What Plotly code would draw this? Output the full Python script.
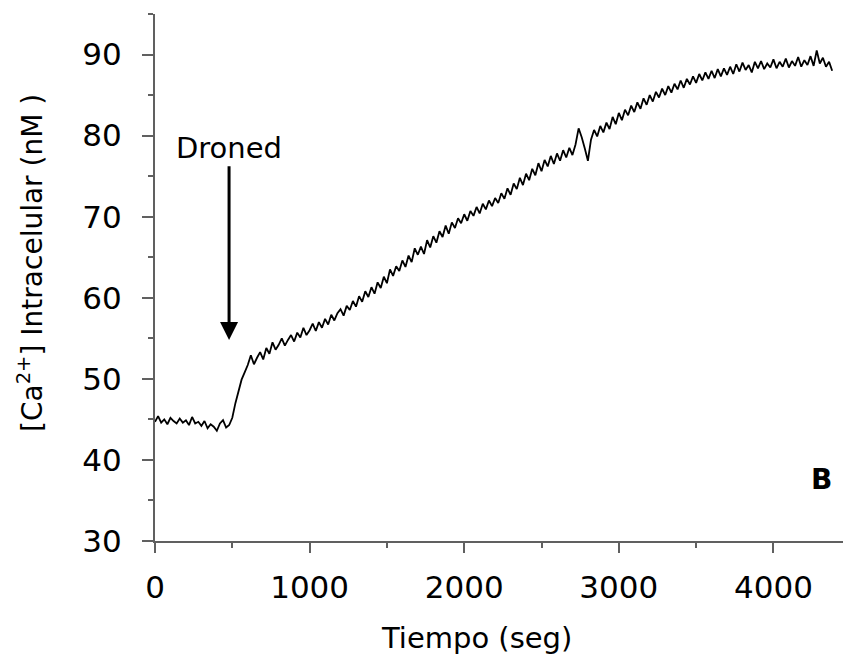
import plotly.graph_objects as go

# Time samples (s)
tiempo = list(range(0, 4381, 20))

# Intracellular Ca2+ (nM)
ca_nM = [
    # 0-480 s: baseline
    44.7, 45.4, 44.6, 45.0, 44.4, 45.2, 44.8, 44.5, 45.1, 44.6,
    44.9, 44.3, 45.3, 44.5, 44.7, 44.2, 44.8, 43.9, 44.4, 44.1,
    43.6, 44.5, 44.9, 44.0, 44.3,
    # 500-680 s: rise after Droned
    45.2, 47.0, 48.6, 49.9, 50.8, 51.7, 52.9, 51.8, 52.6, 53.3,
    # 700-1200 s
    52.4, 53.8, 53.1, 54.5, 53.6, 54.2, 55.0, 54.1, 54.8, 55.4,
    54.6, 55.7, 55.1, 56.3, 55.4, 56.0, 56.8, 55.9, 57.0, 56.3,
    57.4, 56.7, 57.9, 57.2, 58.1, 58.6,
    # 1220-1700 s
    57.8, 59.0, 58.5, 59.6, 58.9, 60.2, 59.5, 60.8, 60.1, 61.3,
    60.5, 61.9, 61.2, 62.6, 61.8, 63.5, 62.7, 63.9, 63.3, 64.6,
    63.8, 65.2, 64.4, 66.1, 65.3,
    # 1720-2200 s
    66.3, 65.4, 67.1, 66.2, 67.6, 66.8, 68.2, 67.5, 68.9, 67.9,
    69.3, 68.6, 69.8, 69.2, 70.3, 69.5, 70.7, 70.1, 71.2, 70.4,
    71.6, 70.9, 72.0, 71.3, 72.3,
    # 2220-2700 s
    71.7, 72.9, 72.2, 73.5, 72.7, 74.1, 73.4, 74.8, 73.9, 75.3,
    74.5, 75.9, 75.1, 76.6, 75.6, 77.0, 76.2, 77.5, 76.5, 77.8,
    76.9, 78.2, 77.3, 78.5, 77.6,
    # 2720-3200 s
    78.9, 80.9, 79.8, 78.4, 76.9, 79.5, 80.7, 79.9, 81.2, 80.4,
    81.6, 80.8, 82.3, 81.4, 82.8, 81.9, 83.2, 82.5, 83.7, 82.9,
    84.1, 83.3, 84.6, 83.8, 85.0,
    # 3220-3700 s
    84.2, 85.4, 84.7, 85.8, 85.0, 86.1, 85.3, 86.4, 85.7, 86.8,
    85.9, 87.0, 86.3, 87.3, 86.5, 87.6, 86.8, 87.8, 87.0, 88.0,
    87.1, 88.2, 87.3, 88.3, 87.5,
    # 3720-4200 s
    88.5, 87.6, 88.8, 87.9, 89.0, 88.1, 88.7, 87.8, 89.1, 88.3,
    89.2, 88.2, 88.9, 88.4, 89.4, 88.3, 89.1, 88.5, 89.5, 88.4,
    89.2, 88.6, 89.7, 88.5, 89.3,
    # 4220-4380 s
    88.7, 89.8, 88.6, 90.5, 88.9, 89.6, 88.5, 89.1, 88.0,
]
assert len(tiempo) == len(ca_nM), (len(tiempo), len(ca_nM))

x_ticks = [0, 1000, 2000, 3000, 4000]
y_ticks = [30, 40, 50, 60, 70, 80, 90]

stim_time = 479
stim_tip = 54.8
stim_label_y = 78.5

TXT = "DejaVu Sans"
AX_COL = "#606060"

fig = go.Figure()
fig.add_trace(go.Scatter(x=tiempo, y=ca_nM, mode="lines",
                         line=dict(color="black", width=1.8),
                         showlegend=False, hoverinfo="skip"))

fig.update_layout(
    width=843, height=659,
    margin=dict(l=155, r=0, t=14, b=118),
    paper_bgcolor="white", plot_bgcolor="white",
    font=dict(family=TXT, color="black"),
)
fig.update_xaxes(
    range=[0, 4450], tickvals=x_ticks, ticktext=[str(v) for v in x_ticks],
    showgrid=False, zeroline=False,
    showline=True, linecolor=AX_COL, linewidth=2,
    ticks="outside", ticklen=10, tickwidth=2, tickcolor=AX_COL,
    minor=dict(dtick=500, ticks="outside", ticklen=5, tickwidth=2, tickcolor=AX_COL),
    tickfont=dict(family=TXT, size=31, color="black"),
    ticklabelstandoff=8,
)
fig.update_yaxes(
    range=[30, 95], tickvals=y_ticks, ticktext=[str(v) for v in y_ticks],
    showgrid=False, zeroline=False,
    showline=True, linecolor=AX_COL, linewidth=2,
    ticks="outside", ticklen=11, tickwidth=2, tickcolor=AX_COL,
    minor=dict(dtick=5, ticks="outside", ticklen=5, tickwidth=2, tickcolor=AX_COL),
    tickfont=dict(family=TXT, size=31, color="black"),
    ticklabelstandoff=14,
)

fig.add_annotation(
    x=stim_time, y=stim_tip, xref="x", yref="y",
    ax=stim_time, ay=stim_label_y, axref="x", ayref="y",
    text="Droned", font=dict(family=TXT, size=29, color="black"),
    showarrow=True, arrowhead=2, arrowsize=1.2, arrowwidth=3, arrowcolor="black",
)
fig.add_annotation(
    x=(476 - 155) / 688, y=-(638 - 541) / 527, xref="paper", yref="paper",
    text="Tiempo (seg)", showarrow=False,
    font=dict(family=TXT, size=29, color="black"),
    xanchor="center", yanchor="middle",
)
fig.add_annotation(
    x=-(155 - 30) / 688, y=(541 - 263) / 527, xref="paper", yref="paper",
    text="[Ca<sup>2+</sup>] Intracelular (nM )", showarrow=False, textangle=-90,
    font=dict(family=TXT, size=28, color="black"),
    xanchor="center", yanchor="middle",
)
fig.add_annotation(
    x=(821 - 155) / 688, y=(541 - 479) / 527, xref="paper", yref="paper",
    text="<b>B</b>", showarrow=False,
    font=dict(family=TXT, size=28, color="black"),
    xanchor="center", yanchor="middle",
)

fig.write_html("out.html")
